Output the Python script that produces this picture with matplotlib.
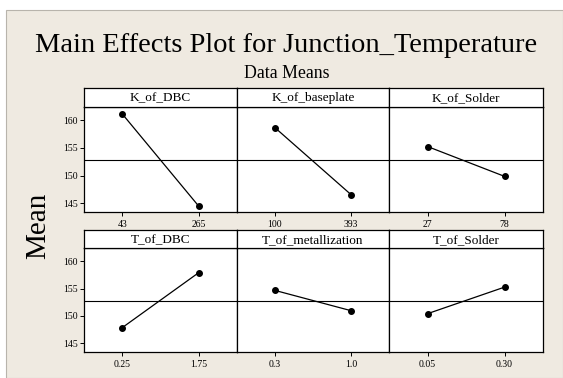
import matplotlib.pyplot as plt
from matplotlib.patches import Rectangle

plt.rcParams['font.family'] = ['Liberation Serif', 'DejaVu Serif']

# factors and level means (main effects on junction temperature)
factors = ['K_of_DBC', 'K_of_baseplate', 'K_of_Solder',
           'T_of_DBC', 'T_of_metallization', 'T_of_Solder']
levels = [['43', '265'], ['100', '393'], ['27', '78'],
          ['0.25', '1.75'], ['0.3', '1.0'], ['0.05', '0.30']]
means = [[161.15, 144.45], [158.65, 146.55], [155.25, 149.85],
         [147.85, 157.9], [154.65, 150.95], [150.4, 155.25]]
grand_mean = 152.75
yticks = [145, 150, 155, 160]

W, H = 563, 378
fig = plt.figure(figsize=(W / 100, H / 100), dpi=100)
fig.patch.set_facecolor('white')

# beige panel behind everything
bg = Rectangle((6 / W, 0), 1 - 6 / W, 1 - 10 / H, transform=fig.transFigure,
               facecolor='#efeae1', edgecolor='#b8b4ac', linewidth=0.8, zorder=-5)
fig.patches.append(bg)

fig.text(286 / W, 1 - 46 / H, 'Main Effects Plot for Junction_Temperature',
         ha='center', va='center', fontsize=20.5)
fig.text(287 / W, 1 - 73 / H, 'Data Means', ha='center', va='center', fontsize=12.8)
fig.text(38 / W, 1 - 226 / H, 'Mean', ha='center', va='center', rotation=90, fontsize=21)

col_x = [84, 237, 389, 543]
rows = [(88, 107, 212), (230, 248, 352)]  # strip top, plot top, plot bottom

for i, name in enumerate(factors):
    r, c = divmod(i, 3)
    s_top, p_top, p_bot = rows[r]
    x0, x1 = col_x[c], col_x[c + 1]

    ax = fig.add_axes([x0 / W, 1 - p_bot / H, (x1 - x0) / W, (p_bot - p_top) / H])
    ax.set_facecolor('white')
    ax.plot([1, 2], means[i], color='black', linewidth=0.9,
            marker='o', markersize=4, zorder=3)
    ax.axhline(grand_mean, color='black', linewidth=0.8)
    ax.set_xlim(0.5, 2.5)
    ax.set_ylim(143.4, 162.4)
    ax.set_xticks([1, 2])
    ax.set_xticklabels(levels[i])
    ax.set_yticks(yticks)
    if c == 0:
        ax.tick_params(axis='y', labelsize=7, length=3, width=0.7, pad=1.5)
    else:
        ax.tick_params(axis='y', left=False, labelleft=False)
    ax.tick_params(axis='x', labelsize=7, length=3, width=0.7, pad=3)
    for sp in ax.spines.values():
        sp.set_linewidth(0.9)

    # strip header with factor name
    sax = fig.add_axes([x0 / W, 1 - p_top / H, (x1 - x0) / W, (p_top - s_top) / H])
    sax.set_facecolor('white')
    sax.set_xticks([])
    sax.set_yticks([])
    for sp in sax.spines.values():
        sp.set_linewidth(0.9)
    sax.text(0.5, 0.45, name, ha='center', va='center', fontsize=9.5,
             transform=sax.transAxes)

fig.savefig('out.png', dpi=100)
